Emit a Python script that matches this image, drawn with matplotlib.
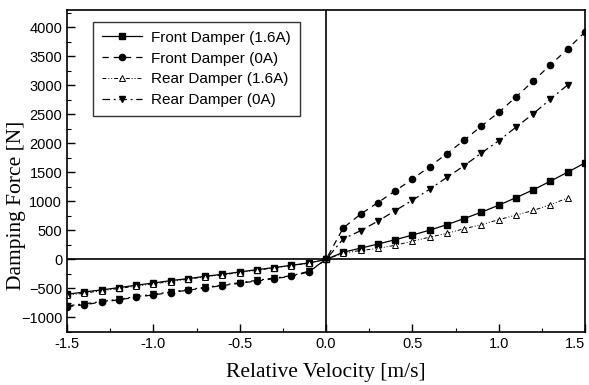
import matplotlib
matplotlib.use("Agg")
import matplotlib.pyplot as plt
import numpy as np
from matplotlib.ticker import MultipleLocator

# relative velocity [m/s]
v_neg = [-1.5, -1.4, -1.3, -1.2, -1.1, -1.0, -0.9, -0.8, -0.7, -0.6, -0.5, -0.4, -0.3, -0.2, -0.1, 0.0]
v_pos = [0.1, 0.2, 0.3, 0.4, 0.5, 0.6, 0.7, 0.8, 0.9, 1.0, 1.1, 1.2, 1.3, 1.4, 1.5]

# damping force [N]
front_16_neg = [-600, -560, -525, -485, -445, -405, -365, -330, -290, -255, -215, -175, -140, -100, -60, 0]
front_16_pos = [125, 195, 265, 340, 420, 505, 600, 705, 815, 935, 1065, 1200, 1350, 1505, 1665]

front_0_neg = [-815, -780, -735, -695, -650, -610, -570, -530, -490, -450, -410, -370, -330, -290, -215, 0]
front_0_pos = [545, 780, 980, 1180, 1385, 1600, 1825, 2055, 2300, 2535, 2800, 3075, 3355, 3630, 3920]

rear_16_neg = [-620, -580, -540, -500, -460, -420, -380, -340, -300, -265, -225, -185, -145, -105, -65, 0]
rear_16_pos = [110, 155, 190, 245, 315, 385, 450, 530, 600, 685, 765, 845, 945, 1060]

rear_0_neg = [-800, -765, -725, -685, -640, -600, -560, -520, -480, -440, -400, -360, -320, -280, -205, 0]
rear_0_pos = [355, 495, 660, 840, 1020, 1210, 1415, 1615, 1835, 2045, 2280, 2510, 2765, 3010]

x_ticks = [-1.5, -1.0, -0.5, 0.0, 0.5, 1.0, 1.5]

plt.rcParams['font.family'] = ['Liberation Sans', 'DejaVu Sans']

fig = plt.figure(figsize=(5.89, 3.85), dpi=100)
ax = fig.add_axes([0.1138, 0.1377, 0.8794, 0.8363])

ax.axhline(0, color='black', lw=1.2, zorder=1)
ax.axvline(0, color='black', lw=1.2, zorder=1)

ms = 4.5
ax.plot(v_neg + v_pos, front_16_neg + front_16_pos, color='black', lw=0.9, ls='-',
        marker='s', ms=ms - 0.5, mfc='black', label='Front Damper (1.6A)')
ax.plot(v_neg + v_pos, front_0_neg + front_0_pos, color='black', lw=0.9, ls=(0, (5, 4)),
        marker='o', ms=ms, mfc='black', label='Front Damper (0A)')
ax.plot(v_neg + v_pos[:-1], rear_16_neg + rear_16_pos, color='black', lw=0.7, ls=(0, (4, 2, 1, 2, 1, 2)),
        marker='^', ms=ms, mfc='white', mew=0.7, label='Rear Damper (1.6A)')
ax.plot(v_neg + v_pos[:-1], rear_0_neg + rear_0_pos, color='black', lw=0.9, ls=(0, (6, 3, 1.5, 3)),
        marker='v', ms=ms, mfc='black', label='Rear Damper (0A)')

ax.set_xlim(-1.5, 1.5)
ax.set_ylim(-1250, 4300)
ax.set_xticks(x_ticks, [f'{t:.1f}' for t in x_ticks])
ax.xaxis.set_minor_locator(MultipleLocator(0.25))
ax.yaxis.set_major_locator(MultipleLocator(500))
ax.yaxis.set_minor_locator(MultipleLocator(250))
ax.tick_params(which='major', direction='in', length=6, width=1, labelsize=10.5)
ax.tick_params(which='minor', direction='in', length=3, width=0.8)
# last label sits at the right edge, keep it inside the figure
ax.xaxis.get_major_ticks()[-1].label1.set_horizontalalignment('right')
for s in ax.spines.values():
    s.set_linewidth(1.2)

ax.set_xlabel('Relative Velocity [m/s]', family='Liberation Serif', fontsize=15.5, labelpad=9)
ax.set_ylabel('Damping Force [N]', family='Liberation Serif', fontsize=15.5)
ax.yaxis.set_label_coords(-0.079, 0.394)

leg = ax.legend(loc='upper left', bbox_to_anchor=(0.035, 0.988), fontsize=11, frameon=True,
                fancybox=False, edgecolor='black', handlelength=2.6, labelspacing=0.45,
                borderpad=0.6, handletextpad=0.6)
leg.get_frame().set_linewidth(1.0)

fig.savefig('out.png', dpi=100)
